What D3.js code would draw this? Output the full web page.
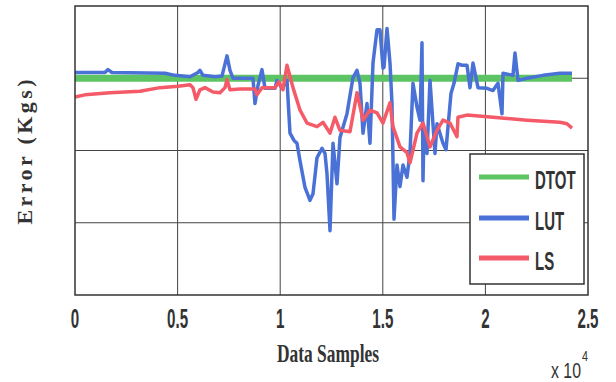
<!DOCTYPE html>
<html><head><meta charset="utf-8">
<script src="https://cdn.jsdelivr.net/npm/d3@7"></script>
<style>body{margin:0;background:#fff}svg{display:block}</style>
</head><body>
<svg id="c" width="616" height="382"></svg>
<script>
const seriesNames = ["DTOT", "LUT", "LS"];
const seriesColors = ["#5cc463", "#4a72d6", "#f45a68"];
const xTicks = [0, 5000, 10000, 15000, 20000, 25000];
const xTickLabels = ["0", "0.5", "1", "1.5", "2", "2.5"];
const yGrid = [-2, -1, 0];

const dtotX = [0, 24220];
const dtotY = [0, 0];

const lutX = [0,1462,1608,1803,4386,4873,5604,5994,6091,6237,6822,7163,7407,7553,7699,8674,8771,8918,9112,9259,9746,9843,10087,10331,10477,10672,10818,10964,11208,11452,11598,11793,12037,12183,12280,12427,12573,12768,12914,13255,13548,13743,13889,14035,14230,14376,14522,14717,14863,15010,15059,15205,15351,15448,15546,15692,15838,15984,16179,16325,16471,16666,16812,16910,16959,17008,17154,17300,17543,17641,17933,18079,18323,18470,18665,18860,19103,19250,19396,19640,20078,20370,20614,20809,20858,21345,21442,21589,22027,22807,23635,24220];
const lutY = [0.08,0.08,0.12,0.08,0.07,0.04,0.02,0.08,0.11,0.04,0.02,0.03,0.31,0.11,0,0,-0.35,-0.1,0.12,-0.14,-0.14,-0.03,-0.14,-0.03,-0.76,-0.86,-0.9,-1.14,-1.51,-1.69,-1.6,-1.1,-0.97,-1.04,-1.32,-2.11,-0.9,-1.46,-0.82,-0.49,0.01,0.11,-0.07,-0.76,-0.35,-0.9,0.21,0.67,0.67,0.14,0.15,0.69,0.21,-0.35,-1.95,-1.2,-1.5,-1.2,-1.37,-1.04,-0.07,-0.4,-0.58,0.49,-1.42,-0.72,-1.04,-0.03,-1.04,-0.63,-0.9,-0.99,-0.21,-0.07,0.2,0.18,0.18,-0.13,0.21,-0.13,-0.14,-0.17,-0.07,-0.49,0.07,0.04,0.35,-0.03,0,0.04,0.07,0.07];

const lsX = [0,487,1706,3168,4142,5019,5604,5750,5896,6091,6335,6725,7066,7310,7407,7553,8040,8771,8869,9112,9746,9941,10136,10331,10623,10964,11305,11793,12085,12427,12670,12914,13401,13743,14035,14376,14717,15010,15350,15497,15837,16179,16325,16666,16958,17300,17640,17933,18274,18615,18664,19102,20369,22026,23634,23976,24219];
const lsY = [-0.26,-0.23,-0.2,-0.18,-0.13,-0.11,-0.09,-0.13,-0.29,-0.16,-0.13,-0.19,-0.2,-0.13,-0.02,-0.16,-0.15,-0.15,-0.23,-0.13,-0.13,-0.05,-0.16,0.18,-0.13,-0.44,-0.62,-0.67,-0.61,-0.76,-0.54,-0.72,-0.74,-0.2,-0.58,-0.44,-0.48,-0.62,-0.34,-0.67,-0.95,-1.03,-1.17,-0.76,-0.62,-0.95,-0.72,-0.58,-0.62,-0.81,-0.54,-0.51,-0.54,-0.58,-0.61,-0.63,-0.69];

const svg = d3.select("#c");
const L = 75, R = 588, T = 6, B = 295;
const x = d3.scaleLinear().domain([0, 25000]).range([L, R]);
const y = d3.scaleLinear().domain([-3, 1]).range([B, T]);
const ink = "#333";

// grid
svg.append("g").selectAll("line").data(xTicks.slice(1, -1)).join("line")
  .attr("x1", d => x(d)).attr("x2", d => x(d)).attr("y1", T).attr("y2", B)
  .attr("stroke", "#444").attr("stroke-width", 1);
svg.append("g").selectAll("line").data(yGrid).join("line")
  .attr("x1", L).attr("x2", R).attr("y1", d => y(d)).attr("y2", d => y(d))
  .attr("stroke", "#444").attr("stroke-width", 1);

// series
const line = d3.line().x(d => x(d[0])).y(d => y(d[1]));
const series = [
  {pts: d3.zip(dtotX, dtotY), w: 7},
  {pts: d3.zip(lutX, lutY), w: 3.5},
  {pts: d3.zip(lsX, lsY), w: 3.5}
];
series.forEach((s, i) => {
  svg.append("path").attr("d", line(s.pts)).attr("fill", "none")
    .attr("stroke", seriesColors[i]).attr("stroke-width", s.w)
    .attr("stroke-linejoin", "round").attr("stroke-linecap", "butt");
});

// frame
svg.append("rect").attr("x", L).attr("y", T).attr("width", R - L).attr("height", B - T)
  .attr("fill", "none").attr("stroke", ink).attr("stroke-width", 1.5);

// x tick labels
svg.append("g").selectAll("text").data(xTicks).join("text")
  .attr("transform", d => `translate(${x(d)},328) scale(0.56,1)`)
  .attr("text-anchor", "middle").attr("font-family", "Liberation Sans, Arial, sans-serif")
  .attr("font-weight", "bold").attr("font-size", 27).attr("fill", "#333")
  .text((d, i) => xTickLabels[i]);

// axis titles
svg.append("text").attr("x", 328).attr("y", 362).attr("text-anchor", "middle")
  .attr("font-family", "Liberation Serif, Times New Roman, serif").attr("font-weight", "bold")
  .attr("font-size", 25).attr("fill", "#333")
  .attr("textLength", 102).attr("lengthAdjust", "spacingAndGlyphs").text("Data Samples");
svg.append("text").attr("transform", "translate(32,152) rotate(-90)").attr("text-anchor", "middle")
  .attr("font-family", "Liberation Serif, Times New Roman, serif").attr("font-weight", "bold")
  .attr("font-size", 22).attr("fill", "#333")
  .attr("textLength", 145).attr("lengthAdjust", "spacing").text("Error (Kgs)");

// x 10^4
svg.append("text").attr("transform", "translate(566,378) scale(0.72,1)").attr("text-anchor", "middle")
  .attr("font-family", "Liberation Sans, Arial, sans-serif").attr("font-size", 22).attr("fill", "#333")
  .text("x 10");
svg.append("text").attr("transform", "translate(585,361) scale(0.72,1)").attr("text-anchor", "middle")
  .attr("font-family", "Liberation Sans, Arial, sans-serif").attr("font-size", 15).attr("fill", "#333")
  .text("4");

// legend
const lg = svg.append("g");
lg.append("rect").attr("x", 470).attr("y", 154).attr("width", 114).attr("height", 130)
  .attr("fill", "#fff").attr("stroke", ink).attr("stroke-width", 1.5);
const legY = [177, 218, 258];
seriesNames.forEach((n, i) => {
  lg.append("line").attr("x1", 479).attr("x2", 529).attr("y1", legY[i]).attr("y2", legY[i])
    .attr("stroke", seriesColors[i]).attr("stroke-width", 5);
  lg.append("text").attr("transform", `translate(535,${legY[i] + 12}) scale(0.6,1)`)
    .attr("font-family", "Liberation Sans, Arial, sans-serif").attr("font-weight", "bold")
    .attr("font-size", 25).attr("fill", "#333").text(n);
});
</script>
</body></html>
